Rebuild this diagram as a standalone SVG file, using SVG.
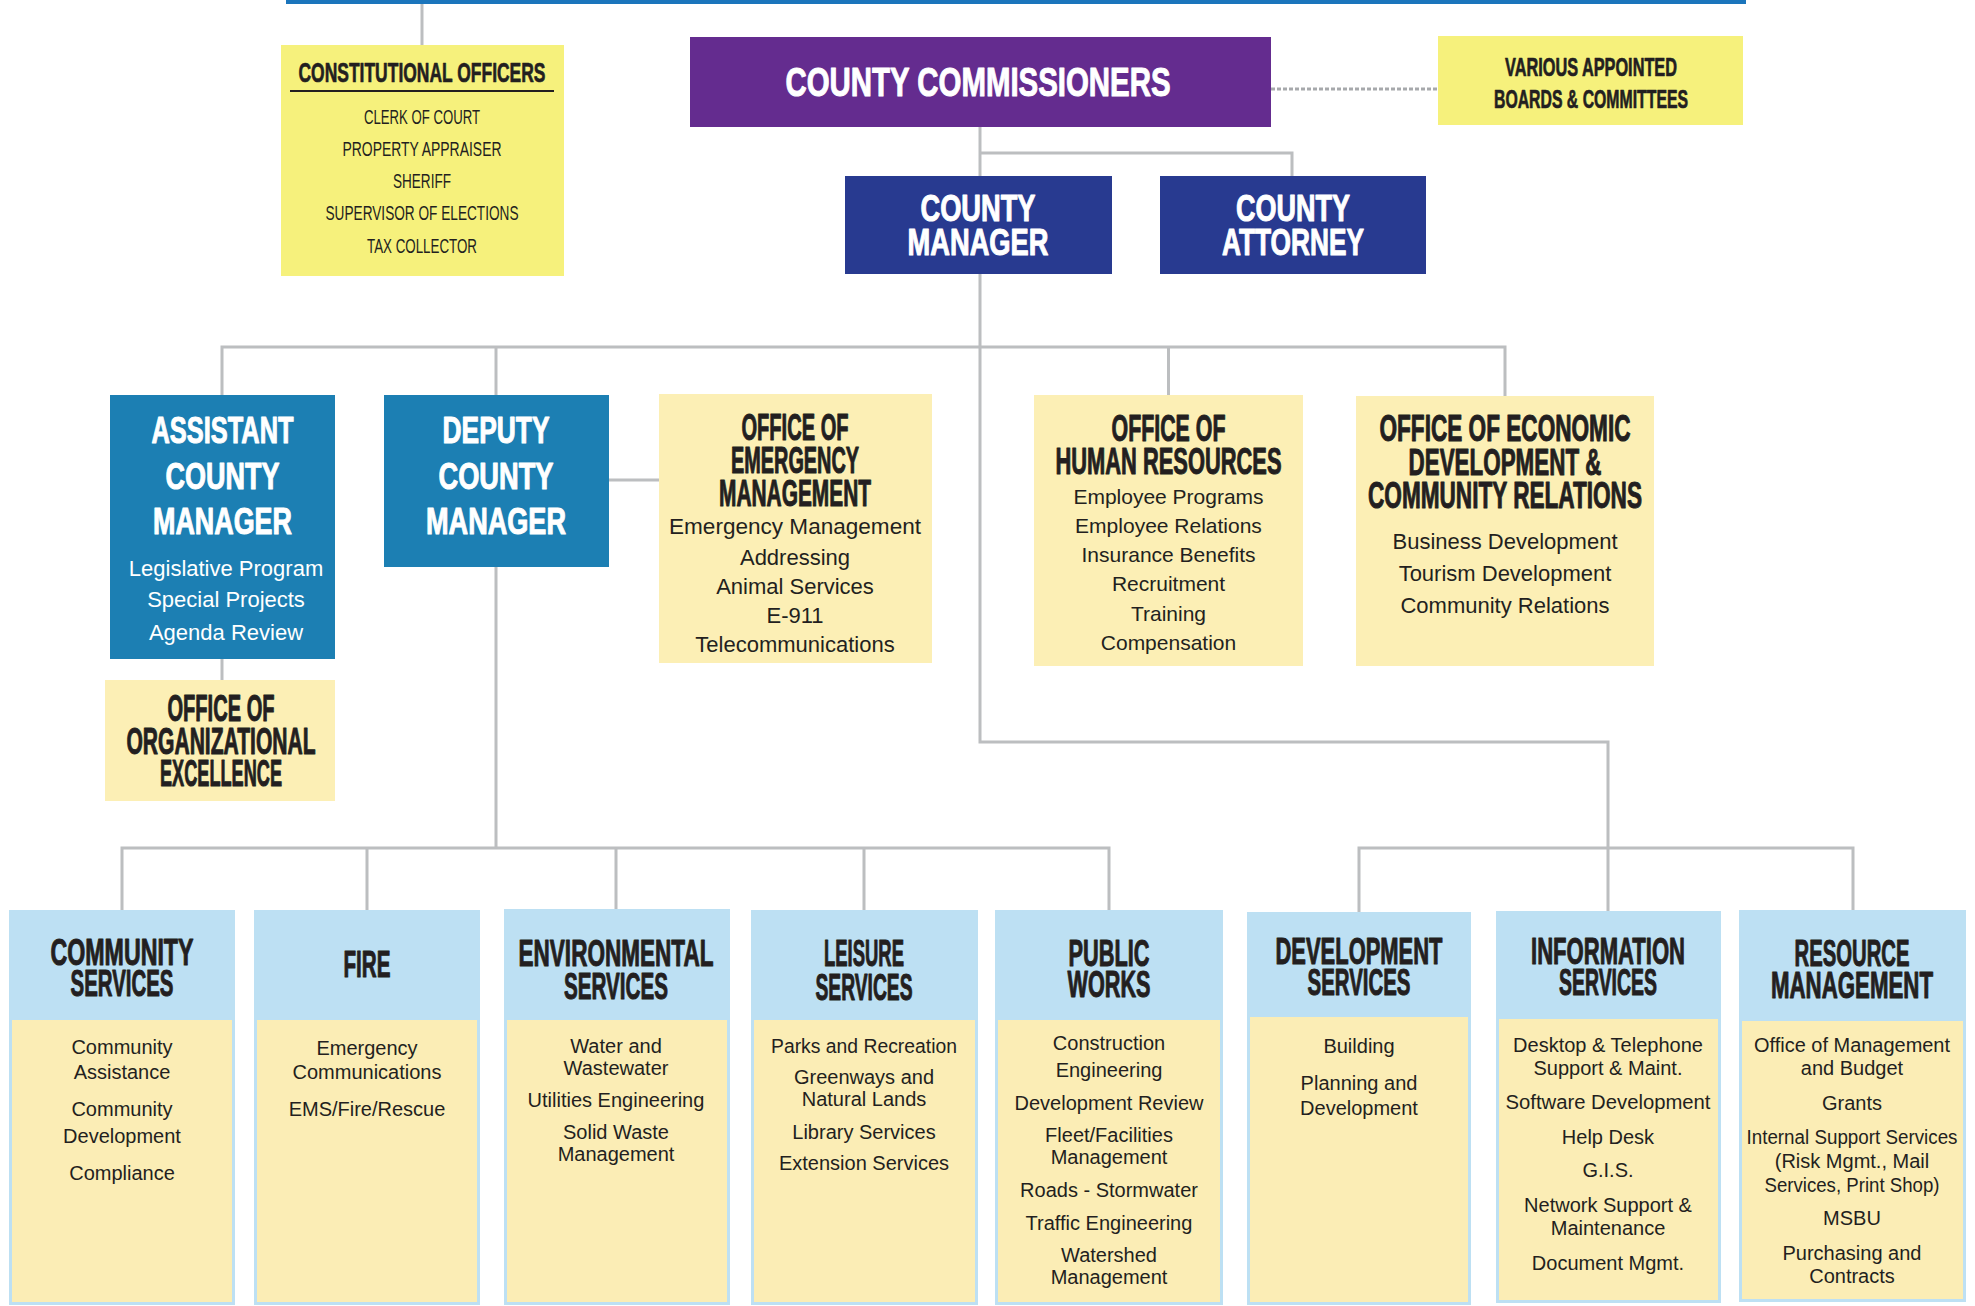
<svg xmlns="http://www.w3.org/2000/svg" width="1975" height="1306" viewBox="0 0 1975 1306">
<style>
.ln{fill:none;stroke:#bcbec0;stroke-width:3}
.dash{fill:none;stroke:#a7a9ac;stroke-width:3;stroke-dasharray:4 2}
.hd{font-family:'Liberation Sans',Arial,sans-serif;font-weight:bold;text-anchor:middle;font-size:36px;stroke-width:1;stroke-linejoin:round}
.bd{font-family:'Liberation Sans',Arial,sans-serif;text-anchor:middle;font-size:22px;fill:#231f20}
.sm{font-size:20px}
.w{fill:#fff}
.hd.w{stroke:#fff}
.k{fill:#231f20}
.hd.k{stroke:#231f20}
.purple{fill:#642c8f}
.navy{fill:#283a90}
.mid{fill:#1c7fb3}
.ybright{fill:#f6f17c}
.ylight{fill:#fcefb5}
.hdr{fill:#bde0f3}
.body{fill:#fbedb5}
</style>
<rect x="286" y="0" width="1460" height="4" fill="#1b75bc"/>
<g id="connectors">
<path class="ln" d="M422 4V45"/>
<path class="ln" d="M980 127V176"/>
<path class="ln" d="M980 153H1292V176"/>
<path class="ln" d="M980 274V742H1608V911"/>
<path class="ln" d="M222 395V347H1505V396"/>
<path class="ln" d="M496 347V395"/>
<path class="ln" d="M1168.5 347V395"/>
<path class="ln" d="M496 567V848"/>
<path class="ln" d="M122 910V848H1109V910"/>
<path class="ln" d="M367 848V910M616 848V910M864 848V910"/>
<path class="ln" d="M1359 912V848H1853V910"/>
<path class="ln" d="M609 480H659"/>
<path class="ln" d="M222 659V680"/>
<path class="dash" d="M1271 89H1438"/>
</g>
<g id="constitutional">
<rect class="ybright" x="281" y="45" width="283" height="231"/>
<text class="hd k" x="422" y="82" style="font-size:28px;stroke-width:0.7" textLength="247" lengthAdjust="spacingAndGlyphs">CONSTITUTIONAL OFFICERS</text>
<path d="M290 91H554" stroke="#231f20" stroke-width="2"/>
<text class="bd" x="422" y="124" style="font-size:21px" textLength="116" lengthAdjust="spacingAndGlyphs">CLERK OF COURT</text>
<text class="bd" x="422" y="156" style="font-size:21px" textLength="159" lengthAdjust="spacingAndGlyphs">PROPERTY APPRAISER</text>
<text class="bd" x="422" y="188" style="font-size:21px" textLength="58" lengthAdjust="spacingAndGlyphs">SHERIFF</text>
<text class="bd" x="422" y="220" style="font-size:21px" textLength="193" lengthAdjust="spacingAndGlyphs">SUPERVISOR OF ELECTIONS</text>
<text class="bd" x="422" y="253" style="font-size:21px" textLength="110" lengthAdjust="spacingAndGlyphs">TAX COLLECTOR</text>
</g>
<g id="commissioners">
<rect class="purple" x="690" y="37" width="581" height="90"/>
<text class="hd w" x="978" y="96" style="font-size:40px" textLength="385" lengthAdjust="spacingAndGlyphs">COUNTY COMMISSIONERS</text>
</g>
<g id="boards">
<rect class="ybright" x="1438" y="36" width="305" height="89"/>
<text class="hd k" x="1591" y="76" style="font-size:26px;stroke-width:0.7" textLength="172" lengthAdjust="spacingAndGlyphs">VARIOUS APPOINTED</text>
<text class="hd k" x="1591" y="108" style="font-size:26px;stroke-width:0.7" textLength="194" lengthAdjust="spacingAndGlyphs">BOARDS &amp; COMMITTEES</text>
</g>
<g id="county-manager">
<rect class="navy" x="845" y="176" width="267" height="98"/>
<text class="hd w" x="978" y="221" textLength="115" lengthAdjust="spacingAndGlyphs">COUNTY</text>
<text class="hd w" x="978" y="255" textLength="141" lengthAdjust="spacingAndGlyphs">MANAGER</text>
</g>
<g id="county-attorney">
<rect class="navy" x="1160" y="176" width="266" height="98"/>
<text class="hd w" x="1293" y="221" textLength="114" lengthAdjust="spacingAndGlyphs">COUNTY</text>
<text class="hd w" x="1293" y="255" textLength="142" lengthAdjust="spacingAndGlyphs">ATTORNEY</text>
</g>
<g id="assistant">
<rect class="mid" x="110" y="395" width="225" height="264"/>
<text class="hd w" x="222.5" y="443" textLength="142" lengthAdjust="spacingAndGlyphs">ASSISTANT</text>
<text class="hd w" x="222.5" y="489" textLength="114" lengthAdjust="spacingAndGlyphs">COUNTY</text>
<text class="hd w" x="222.5" y="534" textLength="139" lengthAdjust="spacingAndGlyphs">MANAGER</text>
<text class="bd w" x="226" y="576">Legislative Program</text>
<text class="bd w" x="226" y="607">Special Projects</text>
<text class="bd w" x="226" y="640">Agenda Review</text>
</g>
<g id="deputy">
<rect class="mid" x="384" y="395" width="225" height="172"/>
<text class="hd w" x="496" y="443" textLength="107" lengthAdjust="spacingAndGlyphs">DEPUTY</text>
<text class="hd w" x="496" y="489" textLength="115" lengthAdjust="spacingAndGlyphs">COUNTY</text>
<text class="hd w" x="496" y="534" textLength="140" lengthAdjust="spacingAndGlyphs">MANAGER</text>
</g>
<g id="emergency">
<rect class="ylight" x="659" y="394" width="273" height="269"/>
<text class="hd k" x="795" y="440" textLength="107" lengthAdjust="spacingAndGlyphs">OFFICE OF</text>
<text class="hd k" x="795" y="473" textLength="128" lengthAdjust="spacingAndGlyphs">EMERGENCY</text>
<text class="hd k" x="795" y="506" textLength="152" lengthAdjust="spacingAndGlyphs">MANAGEMENT</text>
<text class="bd" x="795" y="534" textLength="252" lengthAdjust="spacingAndGlyphs">Emergency Management</text>
<text class="bd" x="795" y="565">Addressing</text>
<text class="bd" x="795" y="594">Animal Services</text>
<text class="bd" x="795" y="623">E-911</text>
<text class="bd" x="795" y="652">Telecommunications</text>
</g>
<g id="org-excellence">
<rect class="ylight" x="105" y="680" width="230" height="121"/>
<text class="hd k" x="221" y="721" textLength="107" lengthAdjust="spacingAndGlyphs">OFFICE OF</text>
<text class="hd k" x="221" y="754" textLength="189" lengthAdjust="spacingAndGlyphs">ORGANIZATIONAL</text>
<text class="hd k" x="221" y="786" textLength="122" lengthAdjust="spacingAndGlyphs">EXCELLENCE</text>
</g>
<g id="human-resources">
<rect class="ylight" x="1034" y="395" width="269" height="271"/>
<text class="hd k" x="1168.5" y="441" textLength="114" lengthAdjust="spacingAndGlyphs">OFFICE OF</text>
<text class="hd k" x="1168.5" y="474" textLength="226" lengthAdjust="spacingAndGlyphs">HUMAN RESOURCES</text>
<text class="bd" x="1168.5" y="504" style="font-size:21px">Employee Programs</text>
<text class="bd" x="1168.5" y="533" style="font-size:21px">Employee Relations</text>
<text class="bd" x="1168.5" y="562" style="font-size:21px">Insurance Benefits</text>
<text class="bd" x="1168.5" y="591" style="font-size:21px">Recruitment</text>
<text class="bd" x="1168.5" y="621" style="font-size:21px">Training</text>
<text class="bd" x="1168.5" y="650" style="font-size:21px">Compensation</text>
</g>
<g id="economic">
<rect class="ylight" x="1356" y="396" width="298" height="270"/>
<text class="hd k" x="1505" y="441" textLength="251" lengthAdjust="spacingAndGlyphs">OFFICE OF ECONOMIC</text>
<text class="hd k" x="1505" y="475" textLength="193" lengthAdjust="spacingAndGlyphs">DEVELOPMENT &amp;</text>
<text class="hd k" x="1505" y="508" textLength="274" lengthAdjust="spacingAndGlyphs">COMMUNITY RELATIONS</text>
<text class="bd" x="1505" y="549">Business Development</text>
<text class="bd" x="1505" y="581">Tourism Development</text>
<text class="bd" x="1505" y="613">Community Relations</text>
</g>
<g id="community-services">
<rect class="hdr" x="9" y="910" width="226" height="395"/>
<rect class="body" x="12" y="1020" width="220" height="282"/>
<text class="hd k" x="122" y="965" textLength="143" lengthAdjust="spacingAndGlyphs">COMMUNITY</text>
<text class="hd k" x="122" y="996" textLength="103" lengthAdjust="spacingAndGlyphs">SERVICES</text>
<text class="bd sm" x="122" y="1054">Community</text>
<text class="bd sm" x="122" y="1079">Assistance</text>
<text class="bd sm" x="122" y="1116">Community</text>
<text class="bd sm" x="122" y="1143">Development</text>
<text class="bd sm" x="122" y="1180">Compliance</text>
</g>
<g id="fire">
<rect class="hdr" x="254" y="910" width="226" height="395"/>
<rect class="body" x="257" y="1020" width="220" height="282"/>
<text class="hd k" x="367" y="977" textLength="47" lengthAdjust="spacingAndGlyphs">FIRE</text>
<text class="bd sm" x="367" y="1055">Emergency</text>
<text class="bd sm" x="367" y="1079">Communications</text>
<text class="bd sm" x="367" y="1116">EMS/Fire/Rescue</text>
</g>
<g id="environmental">
<rect class="hdr" x="504" y="909" width="226" height="396"/>
<rect class="body" x="507" y="1020" width="220" height="282"/>
<text class="hd k" x="616" y="966" textLength="195" lengthAdjust="spacingAndGlyphs">ENVIRONMENTAL</text>
<text class="hd k" x="616" y="999" textLength="104" lengthAdjust="spacingAndGlyphs">SERVICES</text>
<text class="bd sm" x="616" y="1053">Water and</text>
<text class="bd sm" x="616" y="1075">Wastewater</text>
<text class="bd sm" x="616" y="1107">Utilities Engineering</text>
<text class="bd sm" x="616" y="1139">Solid Waste</text>
<text class="bd sm" x="616" y="1161">Management</text>
</g>
<g id="leisure">
<rect class="hdr" x="751" y="910" width="227" height="395"/>
<rect class="body" x="754" y="1020" width="221" height="282"/>
<text class="hd k" x="864" y="966" textLength="80" lengthAdjust="spacingAndGlyphs">LEISURE</text>
<text class="hd k" x="864" y="1000" textLength="97" lengthAdjust="spacingAndGlyphs">SERVICES</text>
<text class="bd sm" x="864" y="1053" textLength="186" lengthAdjust="spacingAndGlyphs">Parks and Recreation</text>
<text class="bd sm" x="864" y="1084">Greenways and</text>
<text class="bd sm" x="864" y="1106">Natural Lands</text>
<text class="bd sm" x="864" y="1139">Library Services</text>
<text class="bd sm" x="864" y="1170">Extension Services</text>
</g>
<g id="public-works">
<rect class="hdr" x="995" y="910" width="228" height="395"/>
<rect class="body" x="998" y="1020" width="222" height="282"/>
<text class="hd k" x="1109" y="966" textLength="81" lengthAdjust="spacingAndGlyphs">PUBLIC</text>
<text class="hd k" x="1109" y="997" textLength="83" lengthAdjust="spacingAndGlyphs">WORKS</text>
<text class="bd sm" x="1109" y="1050">Construction</text>
<text class="bd sm" x="1109" y="1077">Engineering</text>
<text class="bd sm" x="1109" y="1110">Development Review</text>
<text class="bd sm" x="1109" y="1142">Fleet/Facilities</text>
<text class="bd sm" x="1109" y="1164">Management</text>
<text class="bd sm" x="1109" y="1197">Roads - Stormwater</text>
<text class="bd sm" x="1109" y="1230">Traffic Engineering</text>
<text class="bd sm" x="1109" y="1262">Watershed</text>
<text class="bd sm" x="1109" y="1284">Management</text>
</g>
<g id="development-services">
<rect class="hdr" x="1247" y="912" width="224" height="393"/>
<rect class="body" x="1250" y="1017" width="218" height="285"/>
<text class="hd k" x="1359" y="964" textLength="167" lengthAdjust="spacingAndGlyphs">DEVELOPMENT</text>
<text class="hd k" x="1359" y="995" textLength="103" lengthAdjust="spacingAndGlyphs">SERVICES</text>
<text class="bd sm" x="1359" y="1053">Building</text>
<text class="bd sm" x="1359" y="1090">Planning and</text>
<text class="bd sm" x="1359" y="1115">Development</text>
</g>
<g id="information-services">
<rect class="hdr" x="1496" y="911" width="225" height="392"/>
<rect class="body" x="1499" y="1019" width="219" height="281"/>
<text class="hd k" x="1608" y="964" textLength="154" lengthAdjust="spacingAndGlyphs">INFORMATION</text>
<text class="hd k" x="1608" y="995" textLength="98" lengthAdjust="spacingAndGlyphs">SERVICES</text>
<text class="bd sm" x="1608" y="1052">Desktop &amp; Telephone</text>
<text class="bd sm" x="1608" y="1075">Support &amp; Maint.</text>
<text class="bd sm" x="1608" y="1109" textLength="205" lengthAdjust="spacingAndGlyphs">Software Development</text>
<text class="bd sm" x="1608" y="1144">Help Desk</text>
<text class="bd sm" x="1608" y="1177">G.I.S.</text>
<text class="bd sm" x="1608" y="1212">Network Support &amp;</text>
<text class="bd sm" x="1608" y="1235">Maintenance</text>
<text class="bd sm" x="1608" y="1270">Document Mgmt.</text>
</g>
<g id="resource-management">
<rect class="hdr" x="1739" y="910" width="227" height="392"/>
<rect class="body" x="1742" y="1021" width="221" height="278"/>
<text class="hd k" x="1852" y="966" textLength="115" lengthAdjust="spacingAndGlyphs">RESOURCE</text>
<text class="hd k" x="1852" y="998" textLength="162" lengthAdjust="spacingAndGlyphs">MANAGEMENT</text>
<text class="bd sm" x="1852" y="1052" textLength="196" lengthAdjust="spacingAndGlyphs">Office of Management</text>
<text class="bd sm" x="1852" y="1075">and Budget</text>
<text class="bd sm" x="1852" y="1110">Grants</text>
<text class="bd sm" x="1852" y="1144" textLength="211" lengthAdjust="spacingAndGlyphs">Internal Support Services</text>
<text class="bd sm" x="1852" y="1168">(Risk Mgmt., Mail</text>
<text class="bd sm" x="1852" y="1192" textLength="175" lengthAdjust="spacingAndGlyphs">Services, Print Shop)</text>
<text class="bd sm" x="1852" y="1225">MSBU</text>
<text class="bd sm" x="1852" y="1260">Purchasing and</text>
<text class="bd sm" x="1852" y="1283">Contracts</text>
</g>
</svg>
